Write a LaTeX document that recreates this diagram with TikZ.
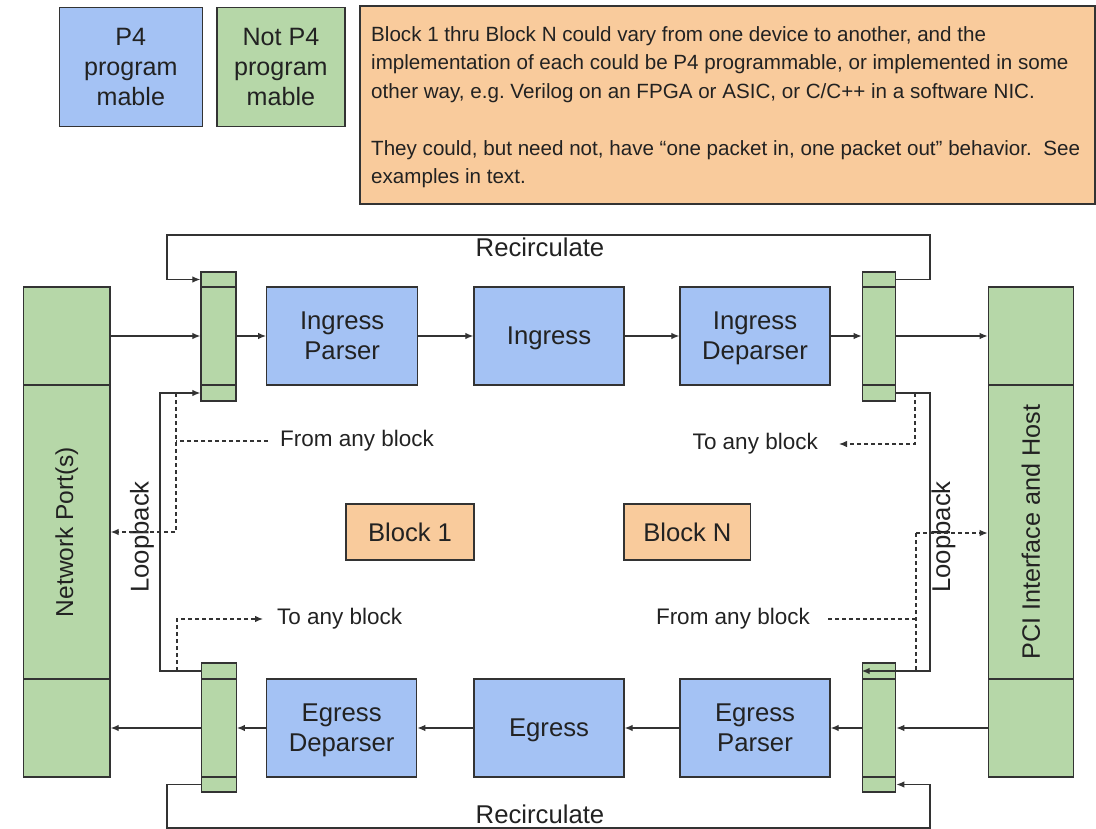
\documentclass[tikz,border=0pt]{standalone}
\usepackage{fontspec}
\setmainfont{Liberation Sans}
\usetikzlibrary{arrows.meta}
\definecolor{pblue}{HTML}{A4C2F4}
\definecolor{pgreen}{HTML}{B6D7A8}
\definecolor{porange}{HTML}{F9CB9C}
\definecolor{ink}{HTML}{333333}
\definecolor{txt}{HTML}{222222}
\frenchspacing

\begin{document}
\begin{tikzpicture}[x=1pt,y=-1pt,
  every node/.style={text=txt},
  box/.style={draw=ink,line width=1.3pt,inner sep=0pt,align=center},
  p4box/.style={box,fill=pblue,text depth=0pt,font=\fontsize{25.7}{30}\selectfont},
  npbox/.style={box,fill=pgreen},
  blkbox/.style={box,fill=porange,font=\fontsize{25.6}{30}\selectfont},
  lbl/.style={inner sep=0pt,font=\fontsize{22.5}{26}\selectfont},
  biglbl/.style={inner sep=0pt,font=\fontsize{25.7}{30}\selectfont},
  wire/.style={draw=ink,line width=1.2pt},
  tip/.style={-{Latex[length=8pt,width=6.5pt]}},
  arr/.style={wire,tip},
  dsh/.style={wire,dash pattern=on 4pt off 3pt},
]
\useasboundingbox (0,0) rectangle (1096,829);

% ---- legend and note ----
\node[p4box,minimum width=143pt,minimum height=119pt,font=\fontsize{25.1}{30}\selectfont]
  (leg1) at (130.8,67) {P4\\program\\mable};
\node[npbox,text depth=0pt,minimum width=128pt,minimum height=119pt,font=\fontsize{25.1}{30}\selectfont]
  (leg2) at (280.9,67) {Not P4\\program\\mable};
\node[box,fill=porange,minimum width=735pt,minimum height=198pt] (note) at (727.5,104.9) {};
\node[inner sep=0pt,anchor=north west,align=left,font=\fontsize{20.6}{28.5}\selectfont]
  (notetext) at (371,26)
  {Block 1 thru Block N could vary from one device to another, and the\\
   implementation of each could be P4 programmable, or implemented in some\\
   other way, e.g. Verilog on an FPGA or ASIC, or C/C++ in a software NIC.\\[28.5pt]
   They could, but need not, have “one packet in, one packet out” behavior.\ \ See\\
   examples in text.};

% ---- end points: network ports and PCI host ----
\node[npbox,minimum width=86.7pt,minimum height=98pt]  (npT) at (66.7,336) {};
\node[npbox,minimum width=86.7pt,minimum height=294pt] (npM) at (66.7,532)
  {\rotatebox{90}{\fontsize{24.5}{28}\selectfont Network Port(s)}};
\node[npbox,minimum width=86.7pt,minimum height=98pt]  (npB) at (66.7,728) {};

\node[npbox,minimum width=85pt,minimum height=98pt]  (pciT) at (1030.8,336) {};
\node[npbox,minimum width=85pt,minimum height=294pt] (pciM) at (1030.8,532)
  {\rotatebox{90}{\fontsize{25.2}{28}\selectfont PCI Interface and Host}};
\node[npbox,minimum width=85pt,minimum height=98pt]  (pciB) at (1030.8,728) {};

% ---- selectors (three stacked cells each) ----
\node[npbox,minimum width=35pt,minimum height=15pt] (lmT) at (218.5,279.5) {};
\node[npbox,minimum width=35pt,minimum height=98pt] (lmM) at (218.5,336) {};
\node[npbox,minimum width=35pt,minimum height=16pt] (lmB) at (218.5,393) {};

\node[npbox,minimum width=33.4pt,minimum height=15pt] (rmT) at (879,279.5) {};
\node[npbox,minimum width=33.4pt,minimum height=98pt] (rmM) at (879,336) {};
\node[npbox,minimum width=33.4pt,minimum height=16pt] (rmB) at (879,393) {};

\node[npbox,minimum width=35pt,minimum height=16pt] (lbT) at (218.8,671) {};
\node[npbox,minimum width=35pt,minimum height=98pt] (lbM) at (218.8,728) {};
\node[npbox,minimum width=35pt,minimum height=15pt] (lbB) at (218.8,784.5) {};

\node[npbox,minimum width=33.4pt,minimum height=16pt] (rbT) at (879,671) {};
\node[npbox,minimum width=33.4pt,minimum height=98pt] (rbM) at (879,728) {};
\node[npbox,minimum width=33.4pt,minimum height=15pt] (rbB) at (879,784.5) {};

% ---- programmable pipeline blocks ----
\node[p4box,minimum width=151pt,minimum height=98pt] (ip) at (342.2,336) {Ingress\\Parser};
\node[p4box,minimum width=150pt,minimum height=98pt] (ig) at (549,336)   {Ingress};
\node[p4box,minimum width=150pt,minimum height=98pt] (id) at (755,336)   {Ingress\\Deparser};
\node[p4box,minimum width=150pt,minimum height=98pt] (ed) at (341.7,728) {Egress\\Deparser};
\node[p4box,minimum width=150pt,minimum height=98pt] (eg) at (549,728)   {Egress};
\node[p4box,minimum width=150pt,minimum height=98pt] (ep) at (755,728)   {Egress\\Parser};

\node[blkbox,minimum width=128pt,minimum height=56pt]   (b1) at (410,532)   {Block 1};
\node[blkbox,minimum width=126.7pt,minimum height=56pt] (bn) at (687.4,532) {Block N};

% ---- ingress path ----
\draw[arr] (npT.east) -- (lmM.west);
\draw[arr] (lmM.east) -- (ip.west);
\draw[arr] (ip.east) -- (ig.west);
\draw[arr] (ig.east) -- (id.west);
\draw[arr] (id.east) -- (rmM.west);
\draw[arr] (rmM.east) -- (pciT.west);

% ---- egress path ----
\draw[arr] (pciB.west) -- (rbM.east);
\draw[arr] (rbM.west) -- (ep.east);
\draw[arr] (ep.west) -- (eg.east);
\draw[arr] (eg.west) -- (ed.east);
\draw[arr] (ed.west) -- (lbM.east);
\draw[arr] (lbM.west) -- (npB.east);

% ---- recirculation loops ----
\coordinate (rcTR) at (930,235);
\coordinate (rcTL) at (167,235);
\draw[arr] (rmT.east) -| (rcTR) -- (rcTL) |- (lmT.west);
\node[biglbl] (recTop) at (540,247) {Recirculate};

\coordinate (rcBL) at (167,828);
\coordinate (rcBR) at (930,828);
\draw[arr] (lbB.west) -| (rcBL) -- (rcBR) |- (rbB.east);
\node[biglbl] (recBot) at (540,814) {Recirculate};

% ---- loopback paths ----
\coordinate (lbkL) at (160,532);
\draw[arr] (lbT.west) -| (lbkL) |- (lmB.west);
\node[biglbl,rotate=90] (lbkLtext) at (142,537) {Loopback};

\coordinate (lbkR) at (930,532);
\draw[arr] (rmB.east) -| (lbkR) |- (rbT.west);
\node[biglbl,rotate=90] (lbkRtext) at (943.5,537) {Loopback};

% ---- dashed taps, left side ----
\coordinate (ldTop) at (176,393);
\draw[dsh,tip] (ldTop) |- (npM.east);
\node[lbl,anchor=west] (fabL) at (280,441) {From any block};
\coordinate (fabLend) at ([xshift=-12pt]fabL.west);
\draw[dsh] (fabLend) -- (fabLend -| ldTop);

\coordinate (ldBot) at (177,671);
\node[lbl,anchor=west] (tabL) at (277,619) {To any block};
\coordinate (tabLend) at ([xshift=-14pt]tabL.west);
\draw[dsh,tip] (ldBot) |- (tabLend);

% ---- dashed taps, right side ----
\coordinate (rdTop) at (915,393);
\node[lbl,anchor=east] (tabR) at (818,444) {To any block};
\coordinate (tabRend) at ([xshift=21pt]tabR.east);
\draw[dsh,tip] (rdTop) |- (tabRend);

\coordinate (rdMid) at (916,533);
\coordinate (rdBot) at (916,671);
\draw[dsh,tip] (rdMid) -- (rdMid -| pciM.west);
\draw[dsh] (rdMid) -- (rdBot);
\node[lbl,anchor=east] (fabR) at (810,619) {From any block};
\coordinate (fabRend) at ([xshift=18pt]fabR.east);
\draw[dsh] (fabRend) -- (fabRend -| rdMid);
\end{tikzpicture}
\end{document}
